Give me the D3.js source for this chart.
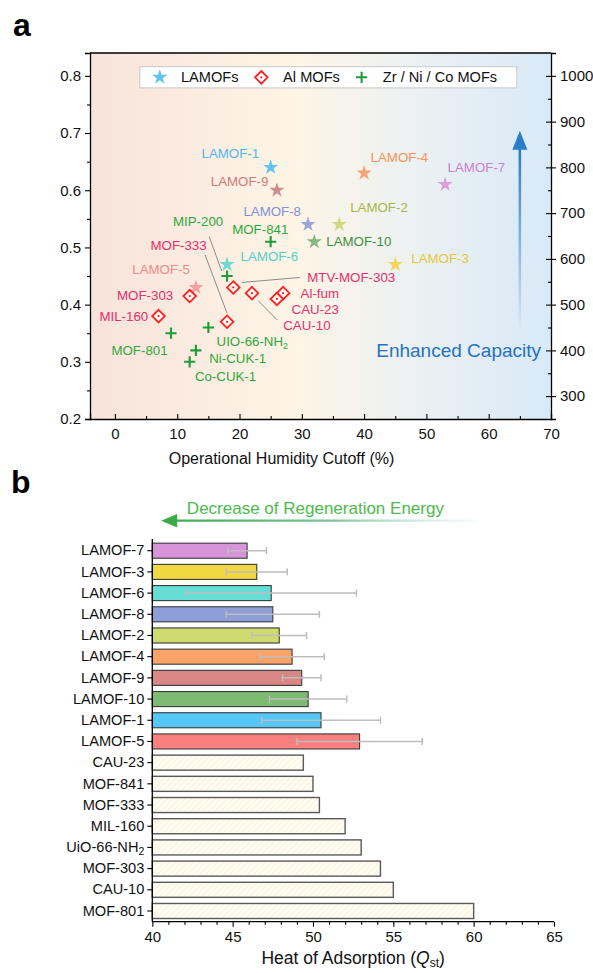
<!DOCTYPE html>
<html>
<head>
<meta charset="utf-8">
<script src="https://cdn.jsdelivr.net/npm/d3@7"></script>
<style>
  html, body { margin: 0; padding: 0; background: #fff; }
  svg { display: block; font-family: "Liberation Sans", Arial, Helvetica, sans-serif; }
</style>
</head>
<body>
<svg id="chart" width="593" height="973"></svg>
<script>
// ---------------- DATA ----------------
// Panel a: LAMOFs (operational humidity cutoff %, uptake g/g)
const lamofNames  = ["LAMOF-1","LAMOF-9","LAMOF-8","LAMOF-2","LAMOF-10","LAMOF-3","LAMOF-4","LAMOF-7","LAMOF-6","LAMOF-5"];
const lamofHumidity = [25, 26, 31, 36, 32, 45, 40, 53, 18, 13];
const lamofUptake   = [0.64, 0.60, 0.54, 0.54, 0.51, 0.47, 0.63, 0.61, 0.47, 0.43];

// Al MOFs
const alNames    = ["MOF-303","MIL-160","MOF-333","MTV-MOF-303","CAU-10","Al-fum","CAU-23"];
const alHumidity = [12, 7, 18, 19, 22, 27, 26];
const alUptake   = [0.415, 0.38, 0.37, 0.43, 0.42, 0.42, 0.41];

// Zr / Ni / Co MOFs
const zrNames    = ["MOF-841","MIP-200","MOF-801","UIO-66-NH2","Ni-CUK-1","Co-CUK-1"];
const zrHumidity = [25, 18, 9, 15, 13, 12];
const zrUptake   = [0.51, 0.45, 0.35, 0.36, 0.32, 0.30];

const xTicksA  = [0, 10, 20, 30, 40, 50, 60, 70];
const yTicksA  = [0.2, 0.3, 0.4, 0.5, 0.6, 0.7, 0.8];
const y2TicksA = [300, 400, 500, 600, 700, 800, 900, 1000];

// Panel b: heat of adsorption (top to bottom)
const qstNames  = ["LAMOF-7","LAMOF-3","LAMOF-6","LAMOF-8","LAMOF-2","LAMOF-4","LAMOF-9","LAMOF-10","LAMOF-1","LAMOF-5",
                   "CAU-23","MOF-841","MOF-333","MIL-160","UiO-66-NH2","MOF-303","CAU-10","MOF-801"];
const qstValues = [45.9, 46.5, 47.4, 47.5, 47.9, 48.7, 49.3, 49.7, 50.5, 52.9,
                   49.4, 50.0, 50.4, 52.0, 53.0, 54.2, 55.0, 60.0];
const qstErrors = [1.2, 1.9, 5.3, 2.9, 1.7, 2.0, 1.2, 2.4, 3.7, 3.9,
                   null, null, null, null, null, null, null, null];
const xTicksB = [40, 45, 50, 55, 60, 65];

// ---------------- STYLES / LAYOUT ----------------
const lamofBarColor = {
  "LAMOF-1":"#55c6f9","LAMOF-2":"#cfdb70","LAMOF-3":"#f2d840","LAMOF-4":"#f9a366","LAMOF-5":"#fa807f",
  "LAMOF-6":"#66ddd5","LAMOF-7":"#d894d8","LAMOF-8":"#8e9fd8","LAMOF-9":"#d98784","LAMOF-10":"#7dbb72"
};
const lamofStarColor = {
  "LAMOF-1":"#62c3f2","LAMOF-2":"#cfd97e","LAMOF-3":"#f2d65a","LAMOF-4":"#f7a475","LAMOF-5":"#f5a0a0",
  "LAMOF-6":"#70d9d3","LAMOF-7":"#d9a0dc","LAMOF-8":"#9ba6dc","LAMOF-9":"#cc8f8c","LAMOF-10":"#87b882"
};
const lamofTextColor = {
  "LAMOF-1":"#4db8f0","LAMOF-2":"#a9b64a","LAMOF-3":"#e8c53a","LAMOF-4":"#f5925a","LAMOF-5":"#f48a88",
  "LAMOF-6":"#52d0c8","LAMOF-7":"#cc7ed4","LAMOF-8":"#8090d8","LAMOF-9":"#cf7a78","LAMOF-10":"#3f8f3f"
};
const alColor = "#ff2020", alText = "#ea2e6d";
const zrColor = "#1e9c3a", zrText = "#2ea83c";

// label offsets (px, relative to point)
const labelLayout = {
  "LAMOF-1":[-11.5,-14,"end"], "LAMOF-9":[-8.5,-8.5,"end"], "LAMOF-8":[-7,-13.5,"end"],
  "LAMOF-2":[11,-17,"start"], "LAMOF-10":[12,0,"start"], "LAMOF-3":[16,-6,"start"],
  "LAMOF-4":[6.5,-16,"start"], "LAMOF-7":[2.5,-17.5,"start"], "LAMOF-6":[13.5,-8.5,"start"],
  "LAMOF-5":[-6,-18,"end"],
  "MOF-303":[-16.5,-1,"end"], "MIL-160":[-10.3,0,"end"], "MOF-333":[-20.4,-76.8,"end"],
  "MTV-MOF-303":[74,-10,"start"], "CAU-10":[31.3,32,"start"], "Al-fum":[17.5,0,"start"],
  "CAU-23":[14.7,10.3,"start"],
  "MOF-841":[-10.4,-12.4,"middle"], "MIP-200":[-3.8,-55,"end"], "MOF-801":[-3.4,17.5,"end"],
  "UIO-66-NH2":[8.2,14.2,"start"], "Ni-CUK-1":[13.3,8,"start"], "Co-CUK-1":[5.2,15,"start"]
};
const leaderLayout = {
  "MOF-333":[-22,-67,0,-8.5],
  "MTV-MOF-303":[8.3,-5,66.6,-10],
  "CAU-10":[6.3,7.5,25.3,26.8],
  "MIP-200":[-17.8,-39.3,-5.4,-5]
};

// ---------------- DRAW ----------------
const svg = d3.select("#chart");
const defs = svg.append("defs");

// Panel a frame
const A = {left: 90, right: 551, top: 53, bottom: 419};
const x = d3.scaleLinear([-4, 70], [A.left, A.right]);
const y = d3.scaleLinear([0.2, 0.84], [A.bottom, A.top]);
const y2 = d3.scaleLinear([250, 1050], [A.bottom, A.top]);

const bgGrad = defs.append("linearGradient").attr("id","bgA").attr("x1","0").attr("x2","1").attr("y1","0").attr("y2","0");
[[0,"#f8e3da"],[0.22,"#fbebe0"],[0.45,"#fdf5e6"],[0.7,"#ecf1f2"],[1,"#d8e9f7"]].forEach(s =>
  bgGrad.append("stop").attr("offset", s[0]).attr("stop-color", s[1]));

svg.append("rect").attr("x",A.left).attr("y",A.top).attr("width",A.right-A.left).attr("height",A.bottom-A.top)
  .attr("fill","url(#bgA)");

// panel labels
svg.append("text").attr("x",13).attr("y",36).attr("font-size",32).attr("font-weight","bold").text("a");
svg.append("text").attr("x",11).attr("y",493).attr("font-size",32).attr("font-weight","bold").text("b");

// Axes panel a
const axL = svg.append("g").attr("transform",`translate(${A.left},0)`)
  .call(d3.axisLeft(y).tickValues(yTicksA).tickFormat(d3.format(".1f")).tickSize(5).tickPadding(4));
svg.append("g").attr("transform",`translate(${A.left},0)`)
  .call(d3.axisLeft(y).tickValues(d3.range(0.25,0.84,0.1)).tickFormat("").tickSize(3))
  .select(".domain").remove();

const axB = svg.append("g").attr("transform",`translate(0,${A.bottom})`)
  .call(d3.axisBottom(x).tickValues(xTicksA).tickSize(-5).tickPadding(9));
svg.append("g").attr("transform",`translate(0,${A.bottom})`)
  .call(d3.axisBottom(x).tickValues(d3.range(-5,71,10).filter(v=>v>-4)).tickFormat("").tickSize(-3))
  .select(".domain").remove();

const axR = svg.append("g").attr("transform",`translate(${A.right},0)`)
  .call(d3.axisRight(y2).tickValues(y2TicksA).tickFormat(d3.format("d")).tickSize(5).tickPadding(4));
axR.selectAll(".tick line").attr("x1",-5);
svg.append("g").attr("transform",`translate(${A.right},0)`)
  .call(d3.axisRight(y2).tickValues(d3.range(250,1050,100).filter(v=>v>250)).tickFormat("").tickSize(-3))
  .select(".domain").remove();

svg.append("line").attr("x1",A.left).attr("x2",A.right).attr("y1",A.top).attr("y2",A.top)
  .attr("stroke","#000").attr("stroke-width",1.3);

[axL, axB, axR].forEach(g => {
  g.selectAll("text").attr("font-size",15).attr("fill","#111").attr("font-family","Liberation Sans, Arial, sans-serif");
  g.select(".domain").attr("stroke-width",1.3);
});
svg.selectAll(".tick line").attr("stroke-width",1.1);

svg.append("text").attr("x",(A.left+A.right)/2 - 39).attr("y",464).attr("text-anchor","middle")
  .attr("font-size",16).attr("fill","#111").text("Operational Humidity Cutoff (%)");

// Enhanced capacity arrow
const arrGrad = defs.append("linearGradient").attr("id","arrA").attr("gradientUnits","userSpaceOnUse")
  .attr("x1",0).attr("x2",0).attr("y1",y2(440)).attr("y2",y2(840));
arrGrad.append("stop").attr("offset",0).attr("stop-color","#2a7dc6").attr("stop-opacity",0);
arrGrad.append("stop").attr("offset",1).attr("stop-color","#2a7dc6").attr("stop-opacity",1);
svg.append("line").attr("x1",x(65)).attr("x2",x(65)).attr("y1",y2(440)).attr("y2",y2(850))
  .attr("stroke","url(#arrA)").attr("stroke-width",2.6);
const ax65 = x(65), tipY = y2(880);
svg.append("path").attr("d",`M${ax65},${tipY} L${ax65-7.5},${tipY+19} L${ax65+7.5},${tipY+19} Z`).attr("fill","#2a7dc6");
svg.append("text").attr("x",x(68.4)).attr("y",y2(400)).attr("dy","0.35em").attr("text-anchor","end")
  .attr("font-size",19).attr("fill","#2672c0").text("Enhanced Capacity");

// Leader lines
function ptOf(name) {
  let i = alNames.indexOf(name);
  if (i >= 0) return [x(alHumidity[i]), y(alUptake[i])];
  i = zrNames.indexOf(name);
  if (i >= 0) return [x(zrHumidity[i]), y(zrUptake[i])];
  i = lamofNames.indexOf(name);
  return [x(lamofHumidity[i]), y(lamofUptake[i])];
}
Object.entries(leaderLayout).forEach(([name, o]) => {
  const [px, py] = ptOf(name);
  svg.append("line").attr("x1",px+o[0]).attr("y1",py+o[1]).attr("x2",px+o[2]).attr("y2",py+o[3])
    .attr("stroke","#8c8c8c").attr("stroke-width",1);
});

// Markers
const starPath = d3.symbol(d3.symbolStar, 72)();
function drawStar(g, cx, cy, color) {
  g.append("path").attr("d", starPath).attr("transform",`translate(${cx},${cy})`).attr("fill", color);
}
function drawDiamond(g, cx, cy) {
  const r = 6.3;
  g.append("path").attr("d",`M${cx},${cy-r} L${cx+r},${cy} L${cx},${cy+r} L${cx-r},${cy} Z`)
    .attr("fill","#fff").attr("fill-opacity",0.6).attr("stroke",alColor).attr("stroke-width",1.8);
  g.append("circle").attr("cx",cx).attr("cy",cy).attr("r",1.1).attr("fill",alColor);
}
function drawPlus(g, cx, cy) {
  const r = 5.6;
  g.append("path").attr("d",`M${cx-r},${cy} L${cx+r},${cy} M${cx},${cy-r} L${cx},${cy+r}`)
    .attr("stroke",zrColor).attr("stroke-width",2.1);
}
const gM = svg.append("g");
lamofNames.forEach((n,i) => drawStar(gM, x(lamofHumidity[i]), y(lamofUptake[i]), lamofStarColor[n]));
alNames.forEach((n,i) => drawDiamond(gM, x(alHumidity[i]), y(alUptake[i])));
zrNames.forEach((n,i) => drawPlus(gM, x(zrHumidity[i]), y(zrUptake[i])));

// Labels
function addLabel(name, color) {
  const [px, py] = ptOf(name);
  const L = labelLayout[name];
  const t = svg.append("text").attr("x",px+L[0]).attr("y",py+L[1]).attr("dy","0.35em")
    .attr("text-anchor",L[2]).attr("font-size",13.3).attr("fill",color);
  if (name.endsWith("NH2")) {
    t.append("tspan").text(name.slice(0,-1));
    t.append("tspan").attr("font-size",9).attr("dy","0.3em").text("2");
  } else t.text(name);
}
lamofNames.forEach(n => addLabel(n, lamofTextColor[n]));
alNames.forEach(n => addLabel(n, alText));
zrNames.forEach(n => addLabel(n, zrText));

// Legend
const lg = svg.append("g");
lg.append("rect").attr("x",x(4)).attr("y",y(0.816)).attr("width",x(64.5)-x(4)).attr("height",y(0.779)-y(0.816))
  .attr("fill","#fff").attr("stroke","#c8c8c8").attr("stroke-width",1);
const legY = y(0.7975);
drawStar(lg, x(7.2), legY, lamofStarColor["LAMOF-1"]);
lg.append("text").attr("x",x(10.6)).attr("y",legY).attr("dy","0.35em").attr("font-size",14.6).attr("fill","#111").text("LAMOFs");
drawDiamond(lg, x(23.5), legY);
lg.append("text").attr("x",x(27.0)).attr("y",legY).attr("dy","0.35em").attr("font-size",14.6).attr("fill","#111").text("Al MOFs");
drawPlus(lg, x(39.6), legY);
lg.append("text").attr("x",x(43)).attr("y",legY).attr("dy","0.35em").attr("font-size",14.6).attr("fill","#111").text("Zr / Ni / Co MOFs");

// ---------------- Panel b ----------------
const B = {left: 152.3, right: 554, top: 540, bottom: 921.7};
const xb = d3.scaleLinear([40, 65], [B.left, B.right]);
const yb = d3.scaleBand(qstNames, [B.top, B.bottom]).paddingInner(0.29).paddingOuter(0.15);

// title arrow
const gArr = defs.append("linearGradient").attr("id","arrB").attr("gradientUnits","userSpaceOnUse")
  .attr("x1",xb(40.5)).attr("x2",xb(60)).attr("y1",0).attr("y2",0);
gArr.append("stop").attr("offset",0).attr("stop-color","#3daa48");
gArr.append("stop").attr("offset",0.55).attr("stop-color","#7cc49a");
gArr.append("stop").attr("offset",1).attr("stop-color","#cfeaf0").attr("stop-opacity",0.3);
svg.append("line").attr("x1",xb(41.4)).attr("x2",xb(60)).attr("y1",520.7).attr("y2",520.7)
  .attr("stroke","url(#arrB)").attr("stroke-width",2.2);
svg.append("path").attr("d",`M${xb(40.55)},520.7 L${xb(41.55)},514 L${xb(41.55)},527.4 Z`).attr("fill","#3daa48");
svg.append("text").attr("x",(xb(42.1)+xb(58.2))/2).attr("y",508).attr("dy","0.35em").attr("text-anchor","middle")
  .attr("font-size",17).attr("fill","#4cbb4c").text("Decrease of Regeneration Energy");

// hatch pattern
const pat = defs.append("pattern").attr("id","hatch").attr("patternUnits","userSpaceOnUse").attr("width",6).attr("height",6);
pat.append("rect").attr("width",6).attr("height",6).attr("fill","#fefbf0");
pat.append("path").attr("d","M-1,1 l2,-2 M0,6 l6,-6 M5,7 l2,-2").attr("stroke","#f7efd2").attr("stroke-width",0.8);

// bars
const gb = svg.append("g");
qstNames.forEach((n,i) => {
  const isL = n.startsWith("LAMOF");
  gb.append("rect").attr("x",xb(40)).attr("y",yb(n)).attr("width",xb(qstValues[i])-xb(40)).attr("height",yb.bandwidth())
    .attr("fill", isL ? lamofBarColor[n] : "url(#hatch)")
    .attr("stroke", isL ? "#3a3a3a" : "#5a5a5a").attr("stroke-width", isL ? 1.1 : 1.4);
});
// error bars
qstNames.forEach((n,i) => {
  if (qstErrors[i] == null) return;
  const cy = yb(n) + yb.bandwidth()/2;
  const x1 = xb(qstValues[i]-qstErrors[i]), x2 = xb(qstValues[i]+qstErrors[i]);
  const g = gb.append("g").attr("stroke","#bdbdbd").attr("stroke-width",1.5);
  g.append("line").attr("x1",x1).attr("x2",x2).attr("y1",cy).attr("y2",cy);
  g.append("line").attr("x1",x1).attr("x2",x1).attr("y1",cy-3.5).attr("y2",cy+3.5);
  g.append("line").attr("x1",x2).attr("x2",x2).attr("y1",cy-3.5).attr("y2",cy+3.5);
});

// axes panel b
const bxAx = svg.append("g").attr("transform",`translate(0,${B.bottom})`)
  .call(d3.axisBottom(xb).tickValues(xTicksB).tickSize(5).tickPadding(5));
svg.append("g").attr("transform",`translate(0,${B.bottom})`)
  .call(d3.axisBottom(xb).tickValues(d3.range(41,65,1).filter(v=>v%5!==0)).tickFormat("").tickSize(3))
  .select(".domain").remove();
const byAx = svg.append("g").attr("transform",`translate(${B.left},0)`)
  .call(d3.axisLeft(yb).tickSize(5).tickPadding(3));
byAx.select(".domain").attr("d",`M0,${B.top-1}V${B.bottom}`);
bxAx.select(".domain").attr("d",`M${B.left},0H${B.right}`);
[bxAx, byAx].forEach(g => {
  g.selectAll("text").attr("font-size",15).attr("fill","#111").attr("font-family","Liberation Sans, Arial, sans-serif");
  g.select(".domain").attr("stroke-width",1.3);
});
byAx.selectAll("text").attr("font-size",14.6);
byAx.selectAll(".tick text").each(function(d) {
  if (d.endsWith("NH2")) {
    const t = d3.select(this); t.text(null);
    t.append("tspan").text(d.slice(0,-1));
    t.append("tspan").attr("font-size",10.5).attr("dy","0.3em").text("2");
  }
});
svg.selectAll(".tick line").attr("stroke-width",1.1);

const qt = svg.append("text").attr("x",(B.left+B.right)/2).attr("y",964).attr("text-anchor","middle")
  .attr("font-size",17.5).attr("fill","#111");
qt.append("tspan").text("Heat of Adsorption (");
qt.append("tspan").attr("font-style","italic").text("Q");
qt.append("tspan").attr("font-size",12).attr("dy","0.22em").text("st");
qt.append("tspan").attr("dy","-0.16em").text(")");
</script>
</body>
</html>
